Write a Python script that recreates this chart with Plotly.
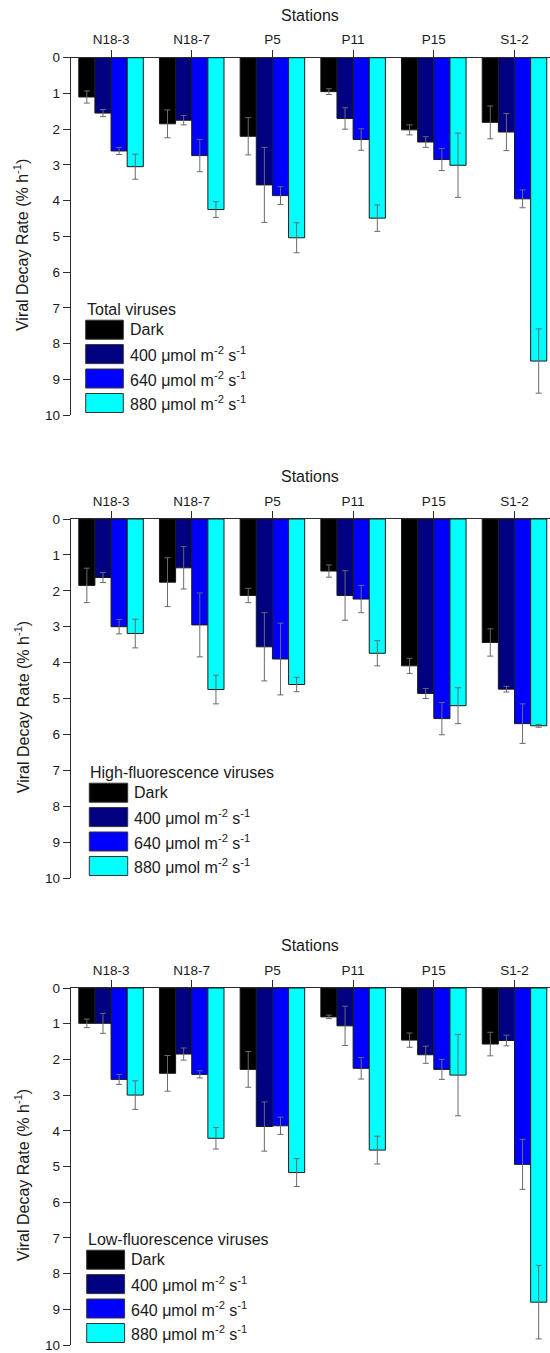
import plotly.graph_objects as go

# ---------------- data ----------------
stations = ["N18-3", "N18-7", "P5", "P11", "P15", "S1-2"]
treatments = ["Dark",
              "400 μmol m<sup>-2</sup> s<sup>-1</sup>",
              "640 μmol m<sup>-2</sup> s<sup>-1</sup>",
              "880 μmol m<sup>-2</sup> s<sup>-1</sup>"]
panel_titles = ["Total viruses", "High-fluorescence viruses", "Low-fluorescence viruses"]

total_dark = [1.10, 1.85, 2.20, 0.95, 2.02, 1.81]
total_dark_err = [0.17, 0.39, 0.52, 0.08, 0.14, 0.46]
total_400 = [1.55, 1.75, 3.56, 1.70, 2.36, 2.08]
total_400_err = [0.10, 0.13, 1.05, 0.30, 0.15, 0.52]
total_640 = [2.61, 2.74, 3.86, 2.29, 2.85, 3.95]
total_640_err = [0.10, 0.45, 0.25, 0.30, 0.31, 0.25]
total_880 = [3.05, 4.25, 5.04, 4.49, 3.01, 8.49]
total_880_err = [0.35, 0.22, 0.42, 0.37, 0.90, 0.90]

high_dark = [1.85, 1.76, 2.13, 1.45, 4.09, 3.44]
high_dark_err = [0.48, 0.68, 0.20, 0.17, 0.21, 0.38]
high_400 = [1.63, 1.36, 3.56, 2.13, 4.86, 4.74]
high_400_err = [0.14, 0.59, 0.95, 0.69, 0.14, 0.08]
high_640 = [3.00, 2.95, 3.90, 2.23, 5.56, 5.70]
high_640_err = [0.20, 0.89, 1.00, 0.38, 0.45, 0.55]
high_880 = [3.19, 4.75, 4.61, 3.74, 5.20, 5.76]
high_880_err = [0.40, 0.40, 0.20, 0.35, 0.50, 0.04]

low_dark = [0.99, 2.39, 2.28, 0.81, 1.46, 1.57]
low_dark_err = [0.12, 0.50, 0.50, 0.05, 0.20, 0.33]
low_400 = [0.99, 1.85, 3.88, 1.06, 1.87, 1.47]
low_400_err = [0.28, 0.17, 0.69, 0.55, 0.24, 0.15]
low_640 = [2.56, 2.42, 3.86, 2.25, 2.28, 4.94]
low_640_err = [0.14, 0.10, 0.24, 0.30, 0.28, 0.70]
low_880 = [3.00, 4.21, 5.17, 4.54, 2.44, 8.80]
low_880_err = [0.40, 0.30, 0.39, 0.39, 1.14, 1.03]

y_ticks = list(range(0, 11))

panels = [
    [(total_dark, total_dark_err), (total_400, total_400_err),
     (total_640, total_640_err), (total_880, total_880_err)],
    [(high_dark, high_dark_err), (high_400, high_400_err),
     (high_640, high_640_err), (high_880, high_880_err)],
    [(low_dark, low_dark_err), (low_400, low_400_err),
     (low_640, low_640_err), (low_880, low_880_err)],
]

# ---------------- style / layout ----------------
W, H = 550, 1353
FONT = "Liberation Sans, Arial, sans-serif"
colors = ["#000000", "#000080", "#0000FF", "#00FFFF"]
AX = "#2b2b2b"

# pixel geometry of each panel: (top y of value 0, bottom y of value 10)
panel_px = [(57.7, 415.0), (519.0, 878.0), (988.0, 1345.0)]
plot_left = 70.7
legend_box_x = [(85.7, 123.3), (89.3, 127.7), (86.7, 124.6)]


def px(x):
    return x / W


def py(y):
    return 1 - y / H


fig = go.Figure()
shapes = []
annotations = []

for i, series in enumerate(panels):
    sfx = "" if i == 0 else str(i + 1)
    for j, (vals, errs) in enumerate(series):
        fig.add_trace(go.Bar(
            x=stations, y=vals,
            name=treatments[j],
            marker=dict(color=colors[j], line=dict(color="#1a1a1a", width=1)),
            error_y=dict(type="data", array=errs, visible=True,
                         color="#6a6a6a", thickness=1, width=3),
            xaxis="x" + sfx, yaxis="y" + sfx,
            showlegend=False,
            offsetgroup=str(j),
        ))

    top, bot = panel_px[i]
    dom = [py(bot), py(top)]
    fig.layout["xaxis" + sfx] = dict(
        domain=[px(plot_left), 1.0], anchor="y" + sfx, side="top",
        type="category", range=[-0.5, 5.44], automargin=False,
        showline=True, linecolor=AX, linewidth=1,
        ticks="outside", ticklen=7, tickcolor=AX, tickwidth=1,
        tickfont=dict(family=FONT, size=13.5, color="#1a1a1a"),
        showgrid=False, zeroline=False, fixedrange=True,
    )
    fig.layout["yaxis" + sfx] = dict(
        domain=dom, anchor="x" + sfx, range=[10, 0], automargin=False,
        tickvals=y_ticks,
        showline=True, linecolor=AX, linewidth=1,
        ticks="outside", ticklen=7, tickcolor=AX, tickwidth=1,
        tickfont=dict(family=FONT, size=13.5, color="#1a1a1a"),
        showgrid=False, zeroline=False, fixedrange=True,
    )

    # "Stations" title
    annotations.append(dict(
        text="Stations", xref="paper", yref="paper",
        x=px((plot_left + W) / 2), y=py(top - 42.5),
        xanchor="center", yanchor="middle", showarrow=False,
        font=dict(family=FONT, size=16, color="#1a1a1a"),
    ))
    # y axis title
    annotations.append(dict(
        text="Viral Decay Rate (% h<sup>-1</sup>)", xref="paper", yref="paper",
        x=px(21.7), y=py((top + bot) / 2 + 9), textangle=-90,
        xanchor="center", yanchor="middle", showarrow=False,
        font=dict(family=FONT, size=16, color="#1a1a1a"),
    ))

    # custom legend
    bx0, bx1 = legend_box_x[i]
    annotations.append(dict(
        text=panel_titles[i], xref="paper", yref="paper",
        x=px(bx0 - 1), y=py(bot - 105.7),
        xanchor="left", yanchor="middle", showarrow=False,
        font=dict(family=FONT, size=16, color="#1a1a1a"),
    ))
    centers = [bot - 85.3, bot - 60.9, bot - 36.5, bot - 12.0]
    for j, cy in enumerate(centers):
        shapes.append(dict(
            type="rect", xref="paper", yref="paper",
            x0=px(bx0), x1=px(bx1), y0=py(cy + 9.5), y1=py(cy - 9.5),
            fillcolor=colors[j], line=dict(color="#333333", width=1),
        ))
        annotations.append(dict(
            text=treatments[j], xref="paper", yref="paper",
            x=px(bx1 + 4.5), y=py(cy),
            xanchor="left", yanchor="middle", showarrow=False,
            font=dict(family=FONT, size=16, color="#1a1a1a"),
        ))

fig.update_layout(
    width=W, height=H, autosize=False,
    margin=dict(l=0, r=0, t=0, b=0, pad=0),
    paper_bgcolor="white", plot_bgcolor="white",
    barmode="group", bargap=0.2, bargroupgap=0.0,
    shapes=shapes, annotations=annotations,
    font=dict(family=FONT, size=13.5, color="#1a1a1a"),
)

fig.write_html("out.html")
